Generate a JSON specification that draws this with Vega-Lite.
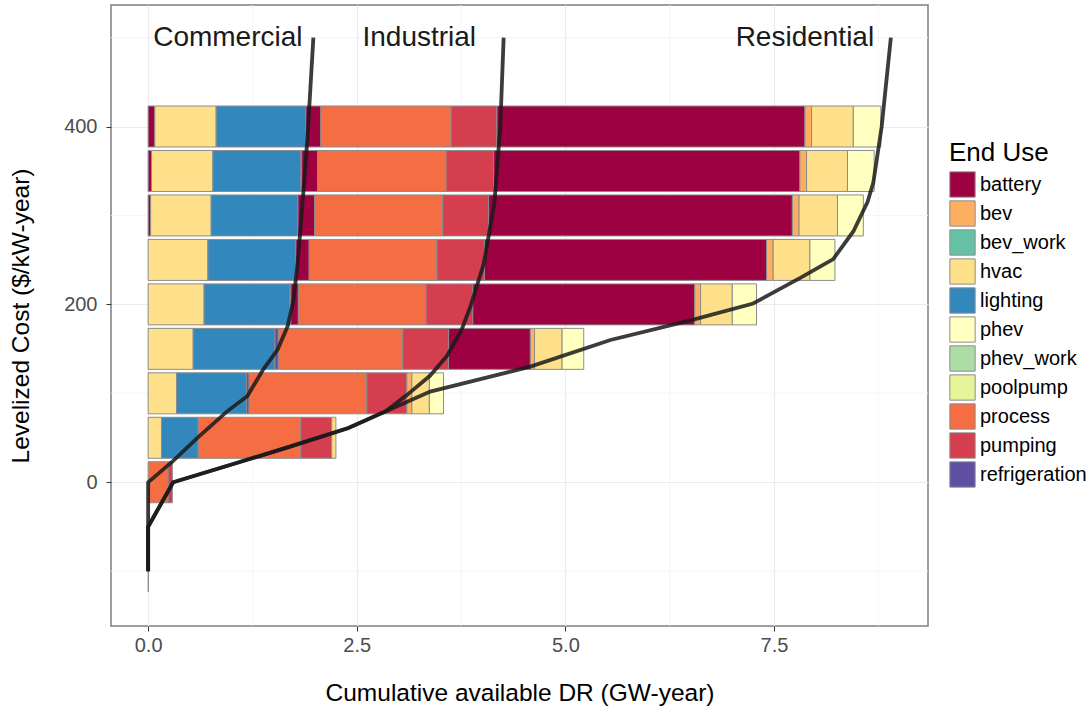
{
  "$schema": "https://vega.github.io/schema/vega-lite/v6.json",
  "width": 817,
  "height": 621,
  "autosize": {"type": "none"},
  "padding": {"left": 111, "top": 5, "right": 163, "bottom": 89},
  "background": "white",
  "config": {
    "font": "Liberation Sans",
    "view": {"stroke": "#7f7f7f", "strokeWidth": 1.5}
  },
  "datasets": {
    "gridx": [{"cap": 1.25}, {"cap": 3.75}, {"cap": 6.25}, {"cap": 8.75}],
    "gridy": [{"cost": -100}, {"cost": 100}, {"cost": 300}, {"cost": 500}],
    "bars": [
      {"cost": 400, "key": "a1", "sector": "Commercial", "enduse": "battery", "cap": 0.08},
      {"cost": 400, "key": "a2", "sector": "Commercial", "enduse": "hvac", "cap": 0.735},
      {"cost": 400, "key": "a3", "sector": "Commercial", "enduse": "lighting", "cap": 1.075},
      {"cost": 400, "key": "b1", "sector": "Industrial", "enduse": "battery", "cap": 0.18},
      {"cost": 400, "key": "b2", "sector": "Industrial", "enduse": "process", "cap": 1.56},
      {"cost": 400, "key": "b3", "sector": "Industrial", "enduse": "pumping", "cap": 0.55},
      {"cost": 400, "key": "c1", "sector": "Residential", "enduse": "battery", "cap": 3.69},
      {"cost": 400, "key": "c2", "sector": "Residential", "enduse": "bev", "cap": 0.08},
      {"cost": 400, "key": "c3", "sector": "Residential", "enduse": "hvac", "cap": 0.5},
      {"cost": 400, "key": "c4", "sector": "Residential", "enduse": "phev", "cap": 0.33},

      {"cost": 350, "key": "a1", "sector": "Commercial", "enduse": "battery", "cap": 0.04},
      {"cost": 350, "key": "a2", "sector": "Commercial", "enduse": "hvac", "cap": 0.736},
      {"cost": 350, "key": "a3", "sector": "Commercial", "enduse": "lighting", "cap": 1.054},
      {"cost": 350, "key": "a4", "sector": "Commercial", "enduse": "refrigeration", "cap": 0.01},
      {"cost": 350, "key": "b1", "sector": "Industrial", "enduse": "battery", "cap": 0.19},
      {"cost": 350, "key": "b2", "sector": "Industrial", "enduse": "process", "cap": 1.54},
      {"cost": 350, "key": "b3", "sector": "Industrial", "enduse": "pumping", "cap": 0.57},
      {"cost": 350, "key": "c1", "sector": "Residential", "enduse": "battery", "cap": 3.67},
      {"cost": 350, "key": "c2", "sector": "Residential", "enduse": "bev", "cap": 0.08},
      {"cost": 350, "key": "c3", "sector": "Residential", "enduse": "hvac", "cap": 0.49},
      {"cost": 350, "key": "c4", "sector": "Residential", "enduse": "phev", "cap": 0.32},

      {"cost": 300, "key": "a1", "sector": "Commercial", "enduse": "battery", "cap": 0.03},
      {"cost": 300, "key": "a2", "sector": "Commercial", "enduse": "hvac", "cap": 0.725},
      {"cost": 300, "key": "a3", "sector": "Commercial", "enduse": "lighting", "cap": 1.04},
      {"cost": 300, "key": "b1", "sector": "Industrial", "enduse": "battery", "cap": 0.2},
      {"cost": 300, "key": "b2", "sector": "Industrial", "enduse": "process", "cap": 1.535},
      {"cost": 300, "key": "b3", "sector": "Industrial", "enduse": "pumping", "cap": 0.55},
      {"cost": 300, "key": "c1", "sector": "Residential", "enduse": "battery", "cap": 3.64},
      {"cost": 300, "key": "c2", "sector": "Residential", "enduse": "bev", "cap": 0.08},
      {"cost": 300, "key": "c3", "sector": "Residential", "enduse": "hvac", "cap": 0.46},
      {"cost": 300, "key": "c4", "sector": "Residential", "enduse": "phev", "cap": 0.31},

      {"cost": 250, "key": "a2", "sector": "Commercial", "enduse": "hvac", "cap": 0.716},
      {"cost": 250, "key": "a3", "sector": "Commercial", "enduse": "lighting", "cap": 1.054},
      {"cost": 250, "key": "b1", "sector": "Industrial", "enduse": "battery", "cap": 0.16},
      {"cost": 250, "key": "b2", "sector": "Industrial", "enduse": "process", "cap": 1.53},
      {"cost": 250, "key": "b3", "sector": "Industrial", "enduse": "pumping", "cap": 0.57},
      {"cost": 250, "key": "c1", "sector": "Residential", "enduse": "battery", "cap": 3.38},
      {"cost": 250, "key": "c2", "sector": "Residential", "enduse": "bev", "cap": 0.08},
      {"cost": 250, "key": "c3", "sector": "Residential", "enduse": "hvac", "cap": 0.44},
      {"cost": 250, "key": "c4", "sector": "Residential", "enduse": "phev", "cap": 0.3},

      {"cost": 200, "key": "a2", "sector": "Commercial", "enduse": "hvac", "cap": 0.67},
      {"cost": 200, "key": "a3", "sector": "Commercial", "enduse": "lighting", "cap": 1.03},
      {"cost": 200, "key": "a4", "sector": "Commercial", "enduse": "refrigeration", "cap": 0.01},
      {"cost": 200, "key": "b1", "sector": "Industrial", "enduse": "battery", "cap": 0.09},
      {"cost": 200, "key": "b2", "sector": "Industrial", "enduse": "process", "cap": 1.53},
      {"cost": 200, "key": "b3", "sector": "Industrial", "enduse": "pumping", "cap": 0.56},
      {"cost": 200, "key": "c1", "sector": "Residential", "enduse": "battery", "cap": 2.66},
      {"cost": 200, "key": "c2", "sector": "Residential", "enduse": "bev", "cap": 0.07},
      {"cost": 200, "key": "c3", "sector": "Residential", "enduse": "hvac", "cap": 0.38},
      {"cost": 200, "key": "c4", "sector": "Residential", "enduse": "phev", "cap": 0.29},

      {"cost": 150, "key": "a2", "sector": "Commercial", "enduse": "hvac", "cap": 0.54},
      {"cost": 150, "key": "a3", "sector": "Commercial", "enduse": "lighting", "cap": 0.98},
      {"cost": 150, "key": "a4", "sector": "Commercial", "enduse": "refrigeration", "cap": 0.04},
      {"cost": 150, "key": "b2", "sector": "Industrial", "enduse": "process", "cap": 1.49},
      {"cost": 150, "key": "b3", "sector": "Industrial", "enduse": "pumping", "cap": 0.55},
      {"cost": 150, "key": "c1", "sector": "Residential", "enduse": "battery", "cap": 0.98},
      {"cost": 150, "key": "c2", "sector": "Residential", "enduse": "bev", "cap": 0.05},
      {"cost": 150, "key": "c3", "sector": "Residential", "enduse": "hvac", "cap": 0.33},
      {"cost": 150, "key": "c4", "sector": "Residential", "enduse": "phev", "cap": 0.26},

      {"cost": 100, "key": "a2", "sector": "Commercial", "enduse": "hvac", "cap": 0.34},
      {"cost": 100, "key": "a3", "sector": "Commercial", "enduse": "lighting", "cap": 0.84},
      {"cost": 100, "key": "a4", "sector": "Commercial", "enduse": "refrigeration", "cap": 0.03},
      {"cost": 100, "key": "b2", "sector": "Industrial", "enduse": "process", "cap": 1.41},
      {"cost": 100, "key": "b3", "sector": "Industrial", "enduse": "pumping", "cap": 0.48},
      {"cost": 100, "key": "c2", "sector": "Residential", "enduse": "bev", "cap": 0.06},
      {"cost": 100, "key": "c3", "sector": "Residential", "enduse": "hvac", "cap": 0.21},
      {"cost": 100, "key": "c4", "sector": "Residential", "enduse": "phev", "cap": 0.17},

      {"cost": 50, "key": "a2", "sector": "Commercial", "enduse": "hvac", "cap": 0.16},
      {"cost": 50, "key": "a3", "sector": "Commercial", "enduse": "lighting", "cap": 0.44},
      {"cost": 50, "key": "b2", "sector": "Industrial", "enduse": "process", "cap": 1.23},
      {"cost": 50, "key": "b3", "sector": "Industrial", "enduse": "pumping", "cap": 0.37},
      {"cost": 50, "key": "c3", "sector": "Residential", "enduse": "hvac", "cap": 0.05},

      {"cost": 0, "key": "b2", "sector": "Industrial", "enduse": "process", "cap": 0.24},
      {"cost": 0, "key": "b3", "sector": "Industrial", "enduse": "pumping", "cap": 0.05},

      {"cost": -100, "key": "b2", "sector": "Industrial", "enduse": "process", "cap": 0.004}
    ],
    "lines": [
      {"sector": "Commercial", "cost": -100, "cap": 0},
      {"sector": "Commercial", "cost": 0, "cap": 0},
      {"sector": "Commercial", "cost": 24, "cap": 0.3},
      {"sector": "Commercial", "cost": 50, "cap": 0.59},
      {"sector": "Commercial", "cost": 80, "cap": 0.95},
      {"sector": "Commercial", "cost": 97, "cap": 1.19},
      {"sector": "Commercial", "cost": 127, "cap": 1.38},
      {"sector": "Commercial", "cost": 149, "cap": 1.55},
      {"sector": "Commercial", "cost": 175, "cap": 1.67},
      {"sector": "Commercial", "cost": 204, "cap": 1.74},
      {"sector": "Commercial", "cost": 245, "cap": 1.79},
      {"sector": "Commercial", "cost": 278, "cap": 1.82},
      {"sector": "Commercial", "cost": 326, "cap": 1.86},
      {"sector": "Commercial", "cost": 389, "cap": 1.91},
      {"sector": "Commercial", "cost": 436, "cap": 1.94},
      {"sector": "Commercial", "cost": 500, "cap": 1.98},

      {"sector": "Industrial", "cost": -100, "cap": 0},
      {"sector": "Industrial", "cost": -50, "cap": 0},
      {"sector": "Industrial", "cost": 0, "cap": 0.3},
      {"sector": "Industrial", "cost": 20, "cap": 1.0},
      {"sector": "Industrial", "cost": 40, "cap": 1.7},
      {"sector": "Industrial", "cost": 61, "cap": 2.4},
      {"sector": "Industrial", "cost": 80, "cap": 2.85},
      {"sector": "Industrial", "cost": 98, "cap": 3.1},
      {"sector": "Industrial", "cost": 120, "cap": 3.38},
      {"sector": "Industrial", "cost": 142, "cap": 3.58},
      {"sector": "Industrial", "cost": 170, "cap": 3.75},
      {"sector": "Industrial", "cost": 197, "cap": 3.86},
      {"sector": "Industrial", "cost": 245, "cap": 4.02},
      {"sector": "Industrial", "cost": 282, "cap": 4.09},
      {"sector": "Industrial", "cost": 315, "cap": 4.15},
      {"sector": "Industrial", "cost": 400, "cap": 4.22},
      {"sector": "Industrial", "cost": 500, "cap": 4.26},

      {"sector": "Residential", "cost": -100, "cap": 0},
      {"sector": "Residential", "cost": -50, "cap": 0},
      {"sector": "Residential", "cost": 0, "cap": 0.3},
      {"sector": "Residential", "cost": 20, "cap": 1.0},
      {"sector": "Residential", "cost": 40, "cap": 1.7},
      {"sector": "Residential", "cost": 61, "cap": 2.4},
      {"sector": "Residential", "cost": 102, "cap": 3.38},
      {"sector": "Residential", "cost": 130, "cap": 4.58},
      {"sector": "Residential", "cost": 160, "cap": 5.54},
      {"sector": "Residential", "cost": 182, "cap": 6.5},
      {"sector": "Residential", "cost": 201, "cap": 7.25},
      {"sector": "Residential", "cost": 230, "cap": 7.82},
      {"sector": "Residential", "cost": 251, "cap": 8.21},
      {"sector": "Residential", "cost": 282, "cap": 8.45},
      {"sector": "Residential", "cost": 315, "cap": 8.62},
      {"sector": "Residential", "cost": 337, "cap": 8.69},
      {"sector": "Residential", "cost": 400, "cap": 8.79},
      {"sector": "Residential", "cost": 500, "cap": 8.9}
    ],
    "labels": [
      {"label": "Commercial", "cap": 1.85, "cost": 500},
      {"label": "Industrial", "cap": 3.93, "cost": 500},
      {"label": "Residential", "cap": 8.7, "cost": 500}
    ]
  },
  "layer": [
    {
      "data": {"name": "gridx"},
      "mark": {"type": "rule", "color": "#F3F3F3", "strokeWidth": 0.8},
      "encoding": {"x": {"field": "cap", "type": "quantitative"}}
    },
    {
      "data": {"name": "gridy"},
      "mark": {"type": "rule", "color": "#F3F3F3", "strokeWidth": 0.8},
      "encoding": {"y": {"field": "cost", "type": "quantitative"}}
    },
    {
      "data": {"name": "bars"},
      "mark": {"type": "bar", "orient": "horizontal", "size": 41, "stroke": "#8c8c8c", "strokeWidth": 1},
      "encoding": {
        "x": {
          "field": "cap", "type": "quantitative", "stack": "zero",
          "scale": {"domain": [-0.445, 9.345], "nice": false, "zero": false},
          "axis": {
            "title": "Cumulative available DR (GW-year)",
            "values": [0, 2.5, 5, 7.5], "format": ".1f",
            "grid": true, "gridColor": "#EBEBEB", "gridWidth": 1.2,
            "domain": false, "tickColor": "#333333", "tickSize": 5, "tickWidth": 1,
            "labelFontSize": 20, "labelColor": "#4D4D4D", "labelPadding": 4,
            "titleFontSize": 24.5, "titleFontWeight": "normal", "titleColor": "#000000", "titlePadding": 26
          }
        },
        "y": {
          "field": "cost", "type": "quantitative",
          "scale": {"domain": [-156, 531], "nice": false, "zero": false},
          "axis": {
            "title": "Levelized Cost ($/kW-year)",
            "values": [0, 200, 400], "format": "d",
            "grid": true, "gridColor": "#EBEBEB", "gridWidth": 1.2,
            "domain": false, "tickColor": "#333333", "tickSize": 5, "tickWidth": 1,
            "labelFontSize": 20, "labelColor": "#4D4D4D", "labelPadding": 9,
            "titleFontSize": 24.5, "titleFontWeight": "normal", "titleColor": "#000000", "titlePadding": 30
          }
        },
        "color": {
          "field": "enduse", "type": "nominal",
          "scale": {
            "domain": ["battery", "bev", "bev_work", "hvac", "lighting", "phev", "phev_work", "poolpump", "process", "pumping", "refrigeration"],
            "range": ["#9E0142", "#FDAE61", "#66C2A5", "#FEE08B", "#3288BD", "#FFFFBF", "#ABDDA4", "#E6F598", "#F46D43", "#D53E4F", "#5E4FA2"]
          },
          "legend": {
            "title": "End Use", "orient": "none", "legendX": 838, "legendY": 135,
            "titleFontSize": 26, "titleFontWeight": "normal", "titleColor": "#000000", "titlePadding": 5,
            "labelFontSize": 20, "labelColor": "#000000", "labelOffset": 4,
            "symbolType": "square", "symbolSize": 640, "symbolStrokeColor": "#8c8c8c", "symbolStrokeWidth": 1, "symbolOpacity": 1,
            "rowPadding": -2.5, "padding": 0
          }
        },
        "order": {"field": "key", "type": "nominal", "sort": "ascending"}
      }
    },
    {
      "data": {"name": "lines"},
      "mark": {"type": "line", "color": "#1a1a1a", "strokeWidth": 3.8, "opacity": 0.85},
      "encoding": {
        "x": {"field": "cap", "type": "quantitative"},
        "y": {"field": "cost", "type": "quantitative"},
        "detail": {"field": "sector"},
        "order": {"field": "cost"}
      }
    },
    {
      "data": {"name": "labels"},
      "mark": {"type": "text", "align": "right", "baseline": "middle", "fontSize": 28, "color": "#1a1a1a"},
      "encoding": {
        "x": {"field": "cap", "type": "quantitative"},
        "y": {"field": "cost", "type": "quantitative"},
        "text": {"field": "label"}
      }
    }
  ]
}
